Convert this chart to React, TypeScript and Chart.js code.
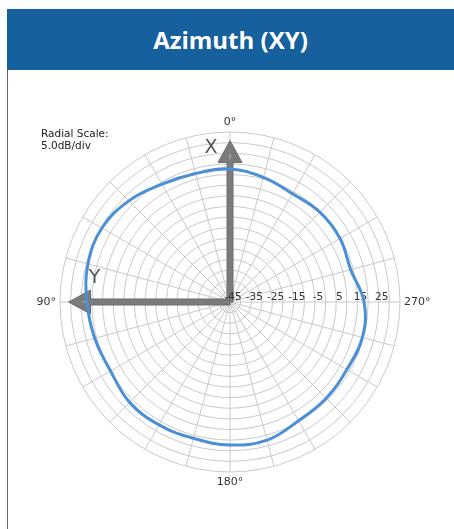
import React, { useEffect, useRef } from "react";
import { Chart, registerables } from "chart.js";

Chart.register(...registerables);

// Azimuth angle (degrees, counter-clockwise from top, as labelled in the figure)
const azimuthDeg = [0, 15, 30, 45, 60, 75, 90, 105, 120, 135, 150, 165, 180, 195, 210, 225, 240, 255, 270, 285, 300, 315, 330, 345];
// Gain in dB at each azimuth angle
const gainDb = [17.6, 17.6, 19.0, 22.3, 24.6, 24.2, 22.3, 20.9, 19.9, 21.8, 21.8, 21.4, 22.3, 22.3, 19.5, 19.0, 18.5, 19.5, 18.1, 13.8, 14.8, 14.8, 13.8, 15.7];

const radialMin = -45;
const radialMax = 35;
const radialStep = 5;
const radialTickLabels = [-45, -35, -25, -15, -5, 5, 15, 25];
const cardinalLabels = [0, 90, 180, 270];
const arrowTipDb = 31; // X / Y axis arrows reach this radial value
const arrowAxes = [
  { angle: 0, name: "X" },
  { angle: 90, name: "Y" },
];

// radar draws clockwise from the top; figure angles run counter-clockwise
const order = azimuthDeg.map((_, i) => (azimuthDeg.length - i) % azimuthDeg.length);
const radarLabels = order.map((k) => azimuthDeg[k]);
const radarData = order.map((k) => gainDb[k]);

function drawArrow(ctx: CanvasRenderingContext2D, x0: number, y0: number, x1: number, y1: number) {
  const dx = x1 - x0;
  const dy = y1 - y0;
  const len = Math.hypot(dx, dy);
  const ux = dx / len;
  const uy = dy / len;
  const nx = -uy;
  const ny = ux;
  const headLen = 22;
  const headW = 12;
  const shaftW = 3;
  const bx = x1 - ux * headLen;
  const by = y1 - uy * headLen;
  ctx.beginPath();
  ctx.moveTo(x0 + nx * shaftW, y0 + ny * shaftW);
  ctx.lineTo(bx + nx * shaftW, by + ny * shaftW);
  ctx.lineTo(bx + nx * headW, by + ny * headW);
  ctx.lineTo(x1, y1);
  ctx.lineTo(bx - nx * headW, by - ny * headW);
  ctx.lineTo(bx - nx * shaftW, by - ny * shaftW);
  ctx.lineTo(x0 - nx * shaftW, y0 - ny * shaftW);
  ctx.closePath();
  ctx.fillStyle = "#7b7b7b";
  ctx.fill();
  ctx.strokeStyle = "#6e6e6e";
  ctx.lineWidth = 1;
  ctx.stroke();
  // light centre line
  ctx.beginPath();
  ctx.moveTo(bx + ux * 3, by + uy * 3);
  ctx.lineTo(bx + ux * 8, by + uy * 8);
  ctx.strokeStyle = "#bdbdbd";
  ctx.lineWidth = 1;
  ctx.stroke();
}

const overlayPlugin = {
  id: "overlay",
  beforeDatasetsDraw(chart: any) {
    const s = chart.scales.r;
    const ctx: CanvasRenderingContext2D = chart.ctx;
    const cx = s.xCenter;
    const cy = s.yCenter;
    ctx.save();
    // axis arrows
    arrowAxes.forEach((a) => {
      const idx = radarLabels.indexOf(a.angle);
      const tip = s.getPointPositionForValue(idx, arrowTipDb);
      drawArrow(ctx, cx, cy, tip.x, tip.y);
    });
    // arrow names
    ctx.fillStyle = "#555555";
    ctx.font = "19px 'DejaVu Sans'";
    ctx.textAlign = "center";
    ctx.textBaseline = "middle";
    {
      const idx = radarLabels.indexOf(0);
      const tip = s.getPointPositionForValue(idx, arrowTipDb);
      ctx.fillText("X", tip.x - 19, tip.y + 8);
    }
    {
      const idx = radarLabels.indexOf(90);
      const tip = s.getPointPositionForValue(idx, arrowTipDb);
      ctx.fillText("Y", tip.x + 26, tip.y - 24);
    }
    // radial tick labels along the 270° direction
    ctx.fillStyle = "#333333";
    ctx.font = "10.5px 'DejaVu Sans'";
    ctx.textAlign = "center";
    ctx.textBaseline = "middle";
    radialTickLabels.forEach((v) => {
      const d = s.getDistanceFromCenterForValue(v);
      ctx.fillText(String(v), cx + d + 3, cy - 5);
    });
    // cardinal angle labels
    ctx.font = "11px 'DejaVu Sans'";
    cardinalLabels.forEach((a) => {
      const idx = radarLabels.indexOf(a);
      if (a === 0 || a === 180) {
        const p = s.getPointPosition(idx, s.drawingArea + 10);
        ctx.textAlign = "center";
        ctx.fillText(a + "°", p.x, p.y);
      } else {
        const p = s.getPointPosition(idx, s.drawingArea + 4);
        ctx.textAlign = a === 90 ? "right" : "left";
        ctx.fillText(a + "°", p.x, p.y);
      }
    });
    ctx.restore();
  },
};

export default function App() {
  const ref = useRef<HTMLCanvasElement | null>(null);
  useEffect(() => {
    if (!ref.current) return;
    const chart = new Chart(ref.current, {
      type: "radar",
      data: {
        labels: radarLabels.map((a) => a + "°"),
        datasets: [
          {
            data: radarData,
            borderColor: "#4b8fd6",
            borderWidth: 3,
            fill: false,
            pointRadius: 0,
            pointHoverRadius: 0,
            tension: 0.4,
          },
        ],
      },
      options: {
        animation: false,
        responsive: false,
        events: [],
        layout: { padding: { left: 52, right: 54, top: 62, bottom: 57 } },
        plugins: { legend: { display: false }, tooltip: { enabled: false } },
        scales: {
          r: {
            min: radialMin,
            max: radialMax,
            beginAtZero: false,
            ticks: { display: false, stepSize: radialStep },
            pointLabels: { display: false },
            grid: { circular: true, color: "#c9c9c9", lineWidth: 1 },
            angleLines: { display: true, color: "#c9c9c9", lineWidth: 1 },
          },
        },
      },
      plugins: [overlayPlugin],
    });
    return () => chart.destroy();
  }, []);

  return (
    <div style={{ position: "fixed", left: 7, top: 9, right: 0, bottom: 0, background: "#fff" }}>
      <div
        style={{
          height: 61,
          background: "#16609e",
          color: "#fff",
          display: "flex",
          alignItems: "center",
          justifyContent: "center",
          fontFamily: "'Open Sans', sans-serif",
          fontWeight: 700,
          fontSize: 24,
        }}
      >
        Azimuth (XY)
      </div>
      <div
        style={{
          position: "absolute",
          left: 0,
          top: 61,
          right: 0,
          bottom: 0,
          borderLeft: "1px solid #666",
        }}
      >
        <canvas ref={ref} width={446} height={459} style={{ position: "absolute", left: 0, top: 0 }} />
        <div
          style={{
            position: "absolute",
            left: 33,
            top: 57,
            fontFamily: "'DejaVu Sans', sans-serif",
            fontSize: 10.5,
            lineHeight: "12px",
            color: "#222",
          }}
        >
          Radial Scale:
          <br />
          5.0dB/div
        </div>
      </div>
    </div>
  );
}
